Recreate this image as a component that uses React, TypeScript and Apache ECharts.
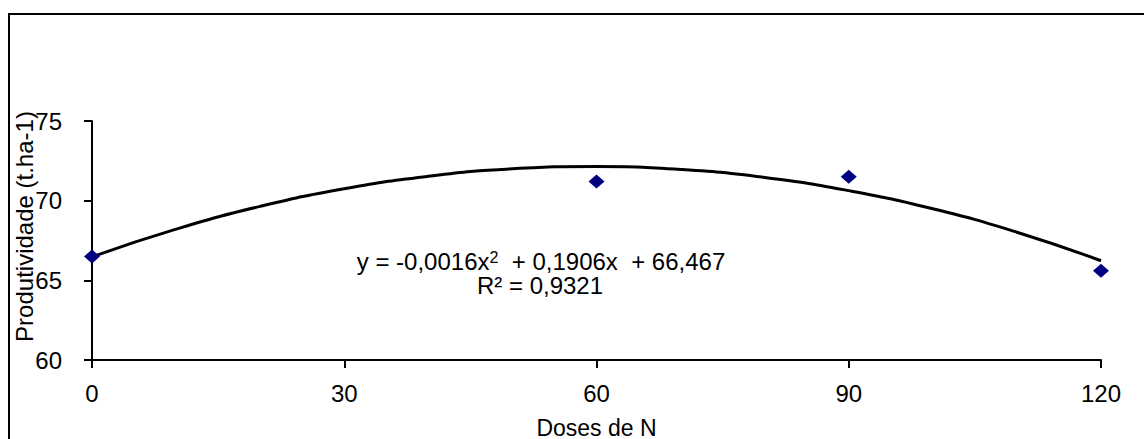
import React, { useEffect, useRef } from "react";
import * as echarts from "echarts";

const observedDoses = [0, 60, 90, 120];
const observedYield = [66.5, 71.2, 71.5, 65.6];

const trendDoses = [0, 10, 20, 30, 40, 50, 60, 70, 80, 90, 100, 110, 120];
const trendYield = [66.47, 68.21, 69.64, 70.75, 71.53, 72.0, 72.14, 71.96, 71.46, 70.63, 69.49, 68.02, 66.23];

const xTicks = [0, 30, 60, 90, 120];
const yTicks = [60, 65, 70, 75];

export default function App() {
  const ref = useRef<HTMLDivElement>(null);
  useEffect(() => {
    if (!ref.current) return;
    const chart = echarts.init(ref.current, null, { renderer: "svg" });
    const font = "Liberation Sans, Arial, sans-serif";
    chart.setOption({
      animation: false,
      backgroundColor: "#ffffff",
      grid: { left: 92, right: 43, top: 121, bottom: 79, containLabel: false, outerBoundsMode: "none" },
      xAxis: {
        type: "value",
        min: xTicks[0],
        max: xTicks[xTicks.length - 1],
        interval: 30,
        name: "Doses de N",
        nameLocation: "middle",
        nameGap: 56,
        nameMoveOverlap: false,
        nameTextStyle: { color: "#000", fontSize: 23, fontFamily: font },
        axisLine: { lineStyle: { color: "#000", width: 2 } },
        axisTick: { show: true, length: 8, lineStyle: { color: "#000", width: 2 } },
        axisLabel: { color: "#000", fontSize: 24, fontFamily: font, margin: 21 },
        splitLine: { show: false },
      },
      yAxis: {
        type: "value",
        min: yTicks[0],
        max: yTicks[yTicks.length - 1],
        interval: 5,
        name: "Produtividade (t.ha-1)",
        nameLocation: "middle",
        nameGap: 56,
        nameRotate: 90,
        nameMoveOverlap: false,
        nameTextStyle: { color: "#000", fontSize: 24, fontFamily: font, padding: [0, 0, 0, 28] },
        axisLine: { show: true, lineStyle: { color: "#000", width: 2 } },
        axisTick: { show: true, length: 8, lineStyle: { color: "#000", width: 2 } },
        axisLabel: { color: "#000", fontSize: 24, fontFamily: font, margin: 30 },
        splitLine: { show: false },
      },
      series: [
        {
          type: "line",
          data: trendDoses.map((d, i) => [d, trendYield[i]]),
          smooth: true,
          symbol: "none",
          lineStyle: { color: "#000", width: 3 },
          z: 2,
        },
        {
          type: "scatter",
          data: observedDoses.map((d, i) => [d, observedYield[i]]),
          symbol: "diamond",
          symbolSize: [16, 14],
          itemStyle: { color: "#000080", opacity: 1 },
          z: 3,
        },
      ],
      graphic: [
        {
          type: "rect",
          shape: { x: 9, y: 14, width: 1200, height: 500 },
          style: { fill: "none", stroke: "#000", lineWidth: 2 },
          silent: true,
        },
        {
          type: "text",
          x: 541,
          y: 261,
          style: {
            text: "y = -0,0016x{sup|2}  + 0,1906x  + 66,467",
            fontSize: 24,
            fontFamily: font,
            fill: "#000",
            align: "center",
            verticalAlign: "middle",
            rich: {
              sup: { fontSize: 16, fontFamily: font, fill: "#000", verticalAlign: "top", padding: [0, 0, 8, 0] },
            },
          },
        },
        {
          type: "text",
          x: 540,
          y: 285,
          style: {
            text: "R² = 0,9321",
            fontSize: 24,
            fontFamily: font,
            fill: "#000",
            align: "center",
            verticalAlign: "middle",
          },
        },
      ],
    });
    return () => chart.dispose();
  }, []);
  return (
    <div
      ref={ref}
      style={{ position: "absolute", left: 0, top: 0, width: 1144, height: 439 }}
    />
  );
}
